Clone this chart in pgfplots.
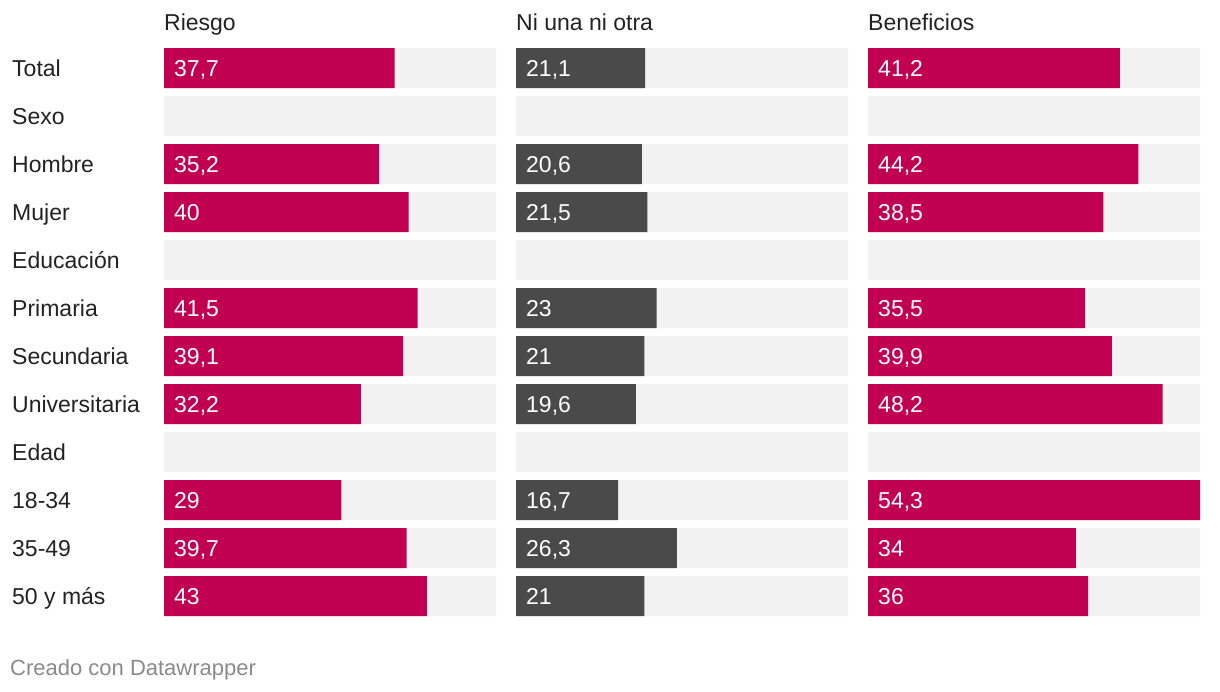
\documentclass[border=0pt]{standalone}
\usepackage{pgfplots}
\pgfplotsset{compat=1.18}
\usepackage{pgfplotstable}
\usepackage{fontspec}
\setmainfont{Liberation Sans}
\definecolor{mag}{HTML}{C20052}
\definecolor{dgr}{HTML}{4A4A4A}
\definecolor{bgc}{HTML}{F2F2F2}
\definecolor{txt}{HTML}{222222}
\definecolor{foot}{HTML}{8A8A8A}
\newcommand{\bigf}{\fontsize{23}{27}\selectfont}

\pgfplotstableread{
y x
0 54.3
1 54.3
2 54.3
3 54.3
4 54.3
5 54.3
6 54.3
7 54.3
8 54.3
9 54.3
10 54.3
11 54.3
}\bgtab

\pgfplotstableread{
y x label
0 37.7 37,7
2 35.2 35,2
3 40 40
5 41.5 41,5
6 39.1 39,1
7 32.2 32,2
9 29 29
10 39.7 39,7
11 43 43
}\riesgo

\pgfplotstableread{
y x label
0 21.1 21,1
2 20.6 20,6
3 21.5 21,5
5 23 23
6 21 21
7 19.6 19,6
9 16.7 16,7
10 26.3 26,3
11 21 21
}\ninguna

\pgfplotstableread{
y x label
0 41.2 41,2
2 44.2 44,2
3 38.5 38,5
5 35.5 35,5
6 39.9 39,9
7 48.2 48,2
9 54.3 54,3
10 34 34
11 36 36
}\beneficios

\pgfplotsset{
  panel/.style={scale only axis, width=332pt, height=576pt,
    xmin=0, xmax=54.3, ymin=-0.5, ymax=11.5, y dir=reverse,
    axis line style={draw=none}, tick style={draw=none},
    xtick=\empty, ytick=\empty, clip=false,
    title style={at={(0,1)}, anchor=base west, inner sep=0pt, yshift=8pt, font=\bigf, text=txt}},
  bgbar/.style={xbar, bar width=40pt, fill=bgc, draw=none},
  valbar/.style={xbar, bar width=40pt, fill=#1, draw=none,
    nodes near coords, point meta=explicit symbolic,
    visualization depends on={rawx \as \rawx},
    every node near coord/.append style={shift={(axis direction cs:-\rawx,0)},
      anchor=base west, inner sep=0pt, xshift=10pt, yshift=-8pt, font=\bigf, text=white}},
}

\begin{document}
\begin{tikzpicture}
\path[use as bounding box] (0,0) rectangle (1220pt,-692pt);

\begin{axis}[panel, at={(164pt,-44pt)}, anchor=north west, title={Riesgo},
  ytick={0,...,11},
  yticklabels={Total,Sexo,Hombre,Mujer,Educación,Primaria,Secundaria,Universitaria,Edad,18-34,35-49,50 y más},
  yticklabel style={anchor=base west, inner sep=0pt, xshift=-152pt, yshift=-8pt, font=\bigf, text=txt}]
\addplot[bgbar] table[x=x, y=y] {\bgtab};
\addplot[valbar=mag] table[x=x, y=y, meta=label] {\riesgo};
\end{axis}

\begin{axis}[panel, at={(516pt,-44pt)}, anchor=north west, title={Ni una ni otra}]
\addplot[bgbar] table[x=x, y=y] {\bgtab};
\addplot[valbar=dgr] table[x=x, y=y, meta=label] {\ninguna};
\end{axis}

\begin{axis}[panel, at={(868pt,-44pt)}, anchor=north west, title={Beneficios}]
\addplot[bgbar] table[x=x, y=y] {\bgtab};
\addplot[valbar=mag] table[x=x, y=y, meta=label] {\beneficios};
\end{axis}

\node[anchor=base west, inner sep=0pt, font=\fontsize{22}{26}\selectfont, text=foot] at (10pt,-675pt) {Creado con Datawrapper};
\end{tikzpicture}
\end{document}
